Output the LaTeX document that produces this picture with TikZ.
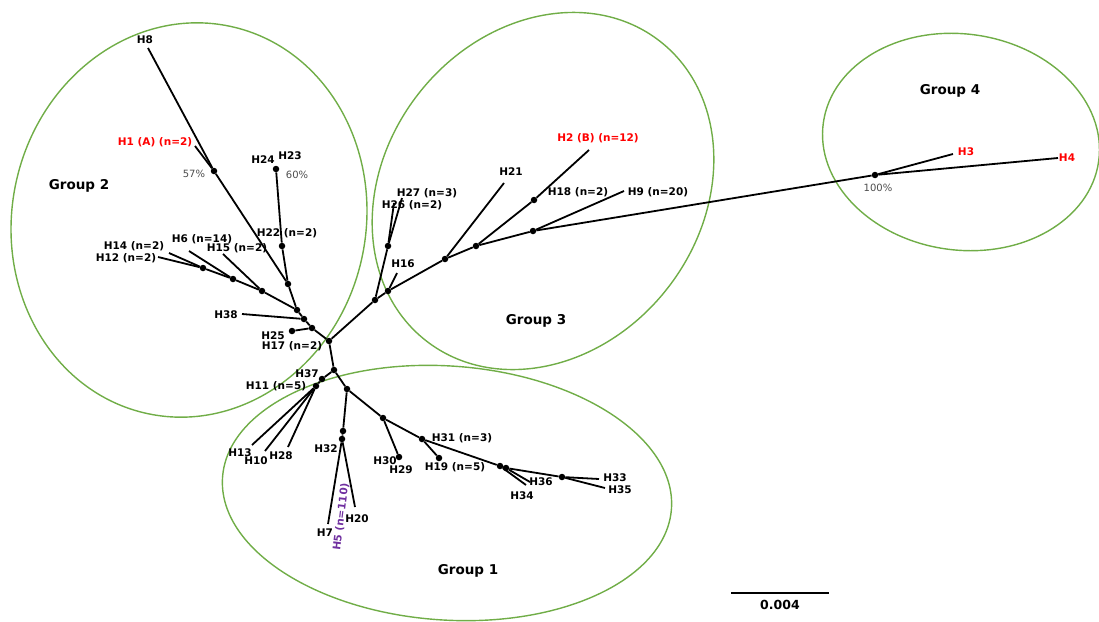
\documentclass[tikz,border=0pt]{standalone}
\usepackage{fontspec}
\setsansfont{DejaVu Sans}
\usepackage{xcolor}
\usetikzlibrary{positioning}

\definecolor{grpgreen}{HTML}{70AD47}
\definecolor{hapred}{HTML}{FF0000}
\definecolor{happurple}{HTML}{7030A0}

\begin{document}
\begin{tikzpicture}[
    x=1pt, y=-1pt,
    font=\sffamily,
    branch/.style={
        draw=black,
        line width=1.8pt
    },
    dot/.style={
        circle,
        fill=black,
        inner sep=0pt,
        minimum size=6.5pt
    },
    grp/.style={
        draw=grpgreen,
        line width=1.4pt
    },
    lab/.style={
        font=\sffamily\bfseries\fontsize{10.5}{12}\selectfont,
        inner sep=0pt
    },
    redlab/.style={
        lab,
        text=hapred
    },
    pct/.style={
        font=\sffamily\fontsize{10}{12}\selectfont,
        text=black!70,
        inner sep=0pt
    },
    grouplab/.style={
        font=\sffamily\bfseries\fontsize{13.5}{16}\selectfont,
        inner sep=0pt
    }
]
\useasboundingbox (0,0) rectangle (1099,621);

% --- Groups
\coordinate (g2) at (189,220);
\coordinate (g3) at (543,191);
\coordinate (g1) at (447,493);
\coordinate (g4) at (961,142);
\draw[grp, rotate around={-12:(g2)}] (g2) ellipse [x radius=177, y radius=198];
\draw[grp, rotate around={52:(g3)}] (g3) ellipse [x radius=190, y radius=158];
\draw[grp, rotate around={-4:(g1)}] (g1) ellipse [x radius=225, y radius=127];
\draw[grp, rotate around={-8:(g4)}] (g4) ellipse [x radius=139, y radius=108];

\node[grouplab] (lg2) at (79,186) {Group 2};
\node[grouplab] (lg3) at (536,321) {Group 3};
\node[grouplab] (lg1) at (468,571) {Group 1};
\node[grouplab] (lg4) at (950,91) {Group 4};

% --- Group 2 branches
\node[dot] (n0) at (329,341) {};
\node[dot] (n1) at (312,328) {};
\node[dot] (n2) at (304,319) {};
\node[dot] (n3) at (297,310) {};
\node[dot] (n4) at (288,284) {};
\node[dot] (n5) at (282,246) {};
\node[dot] (t24) at (276,169) {};
\node[dot] (n6) at (214,171) {};
\coordinate (t8) at (148,48);
\coordinate (t1) at (195,146);
\node[dot] (n7) at (262,291) {};
\node[dot] (n8) at (233,279) {};
\node[dot] (n9) at (203,268) {};
\coordinate (t15) at (223,254);
\coordinate (t6) at (189,251);
\coordinate (t14) at (169,253);
\coordinate (t12) at (158,257);
\coordinate (t38) at (242,314);
\node[dot] (t25) at (292,331) {};

\draw[branch] (n0) -- (n1);
\draw[branch] (n1) -- (t25);
\draw[branch] (n1) -- (n2);
\draw[branch] (n2) -- (t38);
\draw[branch] (n2) -- (n3);
\draw[branch] (n3) -- (n4);
\draw[branch] (n4) -- (n5);
\draw[branch] (n5) -- (t24);
\draw[branch] (n4) -- (n6);
\draw[branch] (n6) -- (t8);
\draw[branch] (n6) -- (t1);
\draw[branch] (n3) -- (n7);
\draw[branch] (n7) -- (t15);
\draw[branch] (n7) -- (n8);
\draw[branch] (n8) -- (t6);
\draw[branch] (n8) -- (n9);
\draw[branch] (n9) -- (t14);
\draw[branch] (n9) -- (t12);

% --- Group 1 branches
\node[dot] (m1) at (334,370) {};
\node[dot] (m2) at (322,379) {};
\node[dot] (m3) at (316,386) {};
\coordinate (t13) at (252,445);
\coordinate (t10) at (265,451);
\coordinate (t28) at (288,447);
\node[dot] (m4) at (347,389) {};
\node[dot] (m5) at (343,431) {};
\node[dot] (m6) at (342,439) {};
\coordinate (t7) at (328,524);
\coordinate (t20) at (355,507);
\node[dot] (m7) at (383,418) {};
\node[dot] (t30) at (399,457) {};
\node[dot] (m8) at (422,439) {};
\node[dot] (t19) at (439,458) {};
\node[dot] (m9) at (500,466) {};
\node[dot] (m10) at (506,468) {};
\coordinate (t34) at (526,485);
\coordinate (t36) at (530,482);
\node[dot] (m11) at (562,477) {};
\coordinate (t33) at (599,479);
\coordinate (t35) at (605,488);

\draw[branch] (n0) -- (m1);
\draw[branch] (m1) -- (m2);
\draw[branch] (m2) -- (m3);
\draw[branch] (m3) -- (t13);
\draw[branch] (m3) -- (t10);
\draw[branch] (m3) -- (t28);
\draw[branch] (m1) -- (m4);
\draw[branch] (m4) -- (m5);
\draw[branch] (m5) -- (m6);
\draw[branch] (m6) -- (t7);
\draw[branch] (m6) -- (t20);
\draw[branch] (m4) -- (m7);
\draw[branch] (m7) -- (t30);
\draw[branch] (m7) -- (m8);
\draw[branch] (m8) -- (t19);
\draw[branch] (m8) -- (m9);
\draw[branch] (m9) -- (t34);
\draw[branch] (m9) -- (m10);
\draw[branch] (m10) -- (t36);
\draw[branch] (m10) -- (m11);
\draw[branch] (m11) -- (t33);
\draw[branch] (m11) -- (t35);

% --- Group 3 and 4 branches
\node[dot] (k1) at (375,300) {};
\node[dot] (k2) at (388,291) {};
\coordinate (t16) at (397,273);
\node[dot] (k3) at (388,246) {};
\coordinate (t26) at (394,203);
\coordinate (t27) at (402,198);
\node[dot] (k4) at (445,259) {};
\coordinate (t21) at (504,183);
\node[dot] (k5) at (476,246) {};
\node[dot] (k6) at (534,200) {};
\coordinate (t2) at (589,150);
\node[dot] (k7) at (533,231) {};
\coordinate (t9) at (624,191);
\node[dot] (k8) at (875,175) {};
\coordinate (t3) at (953,154);
\coordinate (t4) at (1058,158);

\draw[branch] (n0) -- (k1);
\draw[branch] (k1) -- (k3);
\draw[branch] (k3) -- (t26);
\draw[branch] (k3) -- (t27);
\draw[branch] (k1) -- (k2);
\draw[branch] (k2) -- (t16);
\draw[branch] (k2) -- (k4);
\draw[branch] (k4) -- (t21);
\draw[branch] (k4) -- (k5);
\draw[branch] (k5) -- (k6);
\draw[branch] (k6) -- (t2);
\draw[branch] (k5) -- (k7);
\draw[branch] (k7) -- (t9);
\draw[branch] (k7) -- (k8);
\draw[branch] (k8) -- (t3);
\draw[branch] (k8) -- (t4);

% --- Labels
\node[lab] (l8) at (145,40) {H8};
\node[redlab] (l1) at (155,142) {H1 (A) (n=2)};
\node[pct] (p57) at (194,174) {57\%};
\node[lab] (l24) at (263,160) {H24};
\node[lab] (l23) at (290,156) {H23};
\node[pct] (p60) at (297,175) {60\%};
\node[lab] (l22) at (287,233) {H22 (n=2)};
\node[lab] (l6) at (202,239) {H6 (n=14)};
\node[lab] (l15) at (237,248) {H15 (n=2)};
\node[lab] (l14) at (134,246) {H14 (n=2)};
\node[lab] (l12) at (126,258) {H12 (n=2)};
\node[lab] (l38) at (226,315) {H38};
\node[lab] (l25) at (273,336) {H25};
\node[lab] (l17) at (292,346) {H17 (n=2)};
\node[lab] (l37) at (307,374) {H37};
\node[lab] (l11) at (276,386) {H11 (n=5)};
\node[lab] (l13) at (240,453) {H13};
\node[lab] (l10) at (256,461) {H10};
\node[lab] (l28) at (281,456) {H28};
\node[lab] (l32) at (326,449) {H32};
\node[lab] (l30) at (385,461) {H30};
\node[lab] (l29) at (401,470) {H29};
\node[lab] (l31) at (462,438) {H31 (n=3)};
\node[lab] (l19) at (455,467) {H19 (n=5)};
\node[lab] (l36) at (541,482) {H36};
\node[lab] (l34) at (522,496) {H34};
\node[lab] (l33) at (615,478) {H33};
\node[lab] (l35) at (620,490) {H35};
\node[lab] (l7) at (325,533) {H7};
\node[lab] (l20) at (357,519) {H20};
\node[lab, text=happurple, rotate=83] (l5) at (341,517) {H5 (n=110)};
\node[lab] (l27) at (427,193) {H27 (n=3)};
\node[lab] (l26) at (412,205) {H26 (n=2)};
\node[lab] (l16) at (403,264) {H16};
\node[lab] (l21) at (511,172) {H21};
\node[redlab] (l2) at (598,138) {H2 (B) (n=12)};
\node[lab] (l18) at (578,192) {H18 (n=2)};
\node[lab] (l9) at (658,192) {H9 (n=20)};
\node[pct] (p100) at (878,188) {100\%};
\node[redlab] (l3) at (966,152) {H3};
\node[redlab] (l4) at (1067,158) {H4};

% --- Scale bar
\coordinate (sb1) at (731,593);
\coordinate (sb2) at (829,593);
\draw[draw=black, line width=2.4pt] (sb1) -- (sb2);
\node[grouplab, font=\sffamily\bfseries\fontsize{12.5}{15}\selectfont] (sblab) at (780,605) {0.004};

\end{tikzpicture}
\end{document}
